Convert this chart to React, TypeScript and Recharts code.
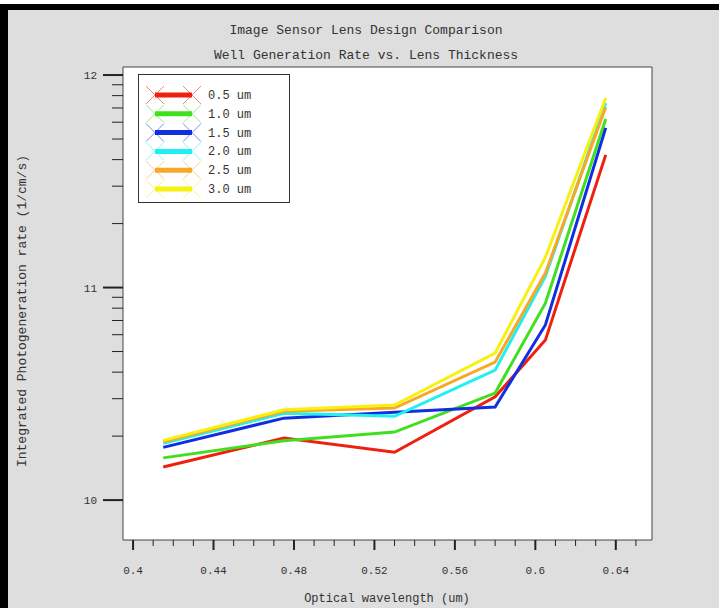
import React from "react";
import {
  LineChart,
  Line,
  XAxis,
  YAxis,
  CartesianGrid,
  Legend,
} from "recharts";

// wavelength (um) of each sample
const wavelength = [0.415, 0.475, 0.53, 0.58, 0.605, 0.635];

// integrated photogeneration rate (1/cm/s), one list per lens thickness
const rate05 = [1.43e10, 1.96e10, 1.68e10, 3.06e10, 5.66e10, 4.21e11];
const rate10 = [1.58e10, 1.9e10, 2.09e10, 3.19e10, 8.45e10, 6.21e11];
const rate15 = [1.77e10, 2.43e10, 2.59e10, 2.74e10, 6.67e10, 5.64e11];
const rate20 = [1.85e10, 2.56e10, 2.48e10, 4.09e10, 1.13e11, 7.38e11];
const rate25 = [1.88e10, 2.62e10, 2.71e10, 4.46e10, 1.17e11, 7.06e11];
const rate30 = [1.91e10, 2.66e10, 2.8e10, 4.92e10, 1.39e11, 7.8e11];

const xTicks = [
  0.4, 0.41, 0.42, 0.43, 0.44, 0.45, 0.46, 0.47, 0.48, 0.49, 0.5, 0.51, 0.52,
  0.53, 0.54, 0.55, 0.56, 0.57, 0.58, 0.59, 0.6, 0.61, 0.62, 0.63, 0.64, 0.65,
];

const yTicks: number[] = [];
[1e10, 1e11].forEach((d) => {
  for (let k = 1; k <= 9; k++) yTicks.push(k * d);
});
yTicks.push(1e12);

const SERIES = [
  { key: "r05", name: "0.5 um", color: "#f02010", values: rate05 },
  { key: "r10", name: "1.0 um", color: "#40e020", values: rate10 },
  { key: "r15", name: "1.5 um", color: "#1030e0", values: rate15 },
  { key: "r20", name: "2.0 um", color: "#20f0f0", values: rate20 },
  { key: "r25", name: "2.5 um", color: "#f8a828", values: rate25 },
  { key: "r30", name: "3.0 um", color: "#f8f010", values: rate30 },
];

const data = wavelength.map((x, i) => {
  const row: Record<string, number> = { x };
  SERIES.forEach((s) => {
    row[s.key] = s.values[i];
  });
  return row;
});

const FONT = "'Liberation Mono', 'DejaVu Sans Mono', monospace";
const TEXT = "#333";
const X_DOMAIN = [0.395, 0.658];
const Y_DOMAIN = [6.49e9, 1.091e12];

function XTick(props: any) {
  const { x, y, payload } = props;
  const v = payload.value;
  const major = Math.abs(v / 0.04 - Math.round(v / 0.04)) < 1e-6;
  return (
    <g>
      <line x1={x} x2={x} y1={y} y2={y + (major ? 10 : 6)} stroke="#222" strokeWidth={major ? 2 : 1} />
      {major && (
        <text x={x} y={y + 34} textAnchor="middle" fontSize={11} fontFamily={FONT} fill={TEXT}>
          {String(Number(v.toFixed(2)))}
        </text>
      )}
    </g>
  );
}

function YTick(props: any) {
  const { x, y, payload } = props;
  const lg = Math.log10(payload.value);
  const major = Math.abs(lg - Math.round(lg)) < 1e-6;
  return (
    <g>
      <line x1={x - (major ? 20 : 11)} x2={x} y1={y} y2={y} stroke="#222" strokeWidth={major ? 2 : 1} />
      {major && (
        <text x={x - 26} y={y + 4} textAnchor="end" fontSize={11} fontFamily={FONT} fill={TEXT}>
          {Math.round(lg)}
        </text>
      )}
    </g>
  );
}

function LegendBox() {
  return (
    <svg width={153} height={130} style={{ display: "block" }}>
      <rect x={0.5} y={0.5} width={151} height={128} fill="#fff" stroke="#333" />
      {SERIES.map((s, i) => {
        const cy = 21 + i * 18.8;
        return (
          <g key={s.key}>
            {[17, 54].map((cx) => (
              <g key={cx} stroke={s.color} strokeWidth={1} opacity={0.55}>
                <line x1={cx - 9} y1={cy - 9} x2={cx + 9} y2={cy + 9} />
                <line x1={cx - 9} y1={cy + 9} x2={cx + 9} y2={cy - 9} />
              </g>
            ))}
            <line x1={17} x2={54} y1={cy} y2={cy} stroke={s.color} strokeWidth={5} />
            <text x={70} y={cy + 4} fontSize={12} fontFamily={FONT} fill={TEXT}>
              {s.name}
            </text>
          </g>
        );
      })}
    </svg>
  );
}

export default function App() {
  return (
    <div
      style={{
        position: "absolute",
        left: 0,
        top: 0,
        width: 719,
        height: 608,
        background: "#dedede",
        overflow: "hidden",
      }}
    >
      <div style={{ position: "absolute", left: 0, top: 0, width: 719, height: 4, background: "#fff" }} />
      <div style={{ position: "absolute", left: 0, top: 4, width: 719, height: 6, background: "#000" }} />
      <div style={{ position: "absolute", left: 0, top: 4, width: 8, height: 604, background: "#000" }} />
      <div
        style={{
          position: "absolute",
          left: 0,
          top: 23,
          width: 732,
          textAlign: "center",
          fontFamily: FONT,
          fontSize: 13,
          color: TEXT,
          lineHeight: "16px",
        }}
      >
        <div>Image Sensor Lens Design Comparison</div>
        <div style={{ marginTop: 9 }}>Well Generation Rate vs. Lens Thickness</div>
      </div>
      <div style={{ position: "absolute", left: 0, top: 0 }}>
        <LineChart
          width={719}
          height={608}
          data={data}
          margin={{ top: 66, right: 66, left: 122, bottom: 67 }}
        >
          <CartesianGrid horizontal={false} vertical={false} fill="#fff" />
          <XAxis
            xAxisId="bottom"
            orientation="bottom"
            type="number"
            dataKey="x"
            domain={X_DOMAIN}
            allowDataOverflow
            ticks={xTicks}
            interval={0}
            height={1}
            tickSize={0}
            tickMargin={0}
            tick={(p: any) => <XTick {...p} />}
            axisLine={{ stroke: "#444" }}
          />
          <XAxis
            xAxisId="top"
            orientation="top"
            type="number"
            dataKey="x"
            domain={X_DOMAIN}
            allowDataOverflow
            height={1}
            tick={false}
            tickLine={false}
            axisLine={{ stroke: "#444" }}
          />
          <YAxis
            yAxisId="left"
            orientation="left"
            type="number"
            scale="log"
            domain={Y_DOMAIN}
            allowDataOverflow
            ticks={yTicks}
            interval={0}
            width={1}
            tickSize={0}
            tickMargin={0}
            tick={(p: any) => <YTick {...p} />}
            axisLine={{ stroke: "#444" }}
          />
          <YAxis
            yAxisId="right"
            orientation="right"
            type="number"
            scale="log"
            domain={Y_DOMAIN}
            allowDataOverflow
            width={1}
            tick={false}
            tickLine={false}
            axisLine={{ stroke: "#444" }}
          />
          <Legend
            layout="vertical"
            align="center"
            verticalAlign="middle"
            content={() => <LegendBox />}
            wrapperStyle={{ left: 138, top: 74, width: 153, height: 130 }}
          />
          {SERIES.map((s) => (
            <Line
              key={s.key}
              xAxisId="bottom"
              yAxisId="left"
              dataKey={s.key}
              name={s.name}
              type="linear"
              stroke={s.color}
              strokeWidth={3}
              dot={false}
              activeDot={false}
              isAnimationActive={false}
            />
          ))}
          <text
            x={387}
            y={602}
            textAnchor="middle"
            fontSize={12}
            fontFamily={FONT}
            fill={TEXT}
          >
            Optical wavelength (um)
          </text>
          <text
            x={26}
            y={311}
            transform="rotate(-90 26 311)"
            textAnchor="middle"
            fontSize={13}
            fontFamily={FONT}
            fill={TEXT}
          >
            Integrated Photogeneration rate (1/cm/s)
          </text>
        </LineChart>
      </div>
    </div>
  );
}
